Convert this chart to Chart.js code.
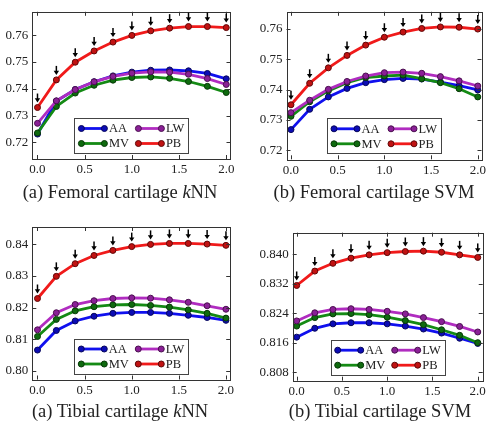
<!DOCTYPE html>
<html>
<head>
<meta charset="utf-8">
<script src="https://cdn.jsdelivr.net/npm/chart.js@4.4.0/dist/chart.umd.min.js"></script>
<style>
    html, body { margin: 0; padding: 0; background: #fff; }
    #wrap { position: relative; width: 489px; height: 424px; overflow: hidden; }
    canvas { position: absolute; }
    .cap {
        position: absolute; white-space: nowrap; transform: translateX(-50%);
        font-family: "Liberation Serif", "DejaVu Serif", serif; font-size: 18.5px;
        line-height: 18px; color: #222;
    }
</style>
</head>
<body>
<div id="wrap">
    <canvas id="c1" width="245" height="212" style="left:0;top:0"></canvas>
    <canvas id="c2" width="244" height="212" style="left:245px;top:0"></canvas>
    <canvas id="c3" width="245" height="212" style="left:0;top:212px"></canvas>
    <canvas id="c4" width="244" height="212" style="left:245px;top:212px"></canvas>
    <div class="cap" style="left:120px;top:183px">(a) Femoral cartilage <i>k</i>NN</div>
    <div class="cap" style="left:374px;top:183px">(b) Femoral cartilage SVM</div>
    <div class="cap" style="left:120px;top:402px">(a) Tibial cartilage <i>k</i>NN</div>
    <div class="cap" style="left:380px;top:402px">(b) Tibial cartilage SVM</div>
</div>
<script>
    var X_VALUES = [0.0, 0.2, 0.4, 0.6, 0.8, 1.0, 1.2, 1.4, 1.6, 1.8, 2.0];
    var X_TICKS = [0.0, 0.5, 1.0, 1.5, 2.0];
    var SERIES_NAMES = ['AA', 'MV', 'LW', 'PB'];

    // femoral cartilage, kNN
    var femKnnAA = [0.7231, 0.7354, 0.7397, 0.7426, 0.7448, 0.7462, 0.7469, 0.7470, 0.7467, 0.7457, 0.7437];
    var femKnnMV = [0.7235, 0.7334, 0.7384, 0.7413, 0.7432, 0.7442, 0.7444, 0.7439, 0.7427, 0.7409, 0.7386];
    var femKnnLW = [0.7271, 0.7355, 0.7397, 0.7426, 0.7446, 0.7458, 0.7463, 0.7462, 0.7454, 0.7438, 0.7416];
    var femKnnPB = [0.7330, 0.7433, 0.7499, 0.7541, 0.7574, 0.7599, 0.7616, 0.7626, 0.7632, 0.7632, 0.7628];

    // femoral cartilage, SVM
    var femSvmAA = [0.7268, 0.7335, 0.7376, 0.7404, 0.7423, 0.7433, 0.7437, 0.7435, 0.7425, 0.7413, 0.7399];
    var femSvmMV = [0.7312, 0.7360, 0.7396, 0.7423, 0.7440, 0.7445, 0.7448, 0.7436, 0.7423, 0.7403, 0.7376];
    var femSvmLW = [0.7324, 0.7365, 0.7401, 0.7427, 0.7445, 0.7456, 0.7458, 0.7454, 0.7443, 0.7429, 0.7412];
    var femSvmPB = [0.7350, 0.7421, 0.7472, 0.7513, 0.7547, 0.7573, 0.7590, 0.7602, 0.7607, 0.7606, 0.7600];

    // tibial cartilage, kNN
    var tibKnnAA = [0.8066, 0.8128, 0.8158, 0.8173, 0.8182, 0.8185, 0.8185, 0.8182, 0.8176, 0.8169, 0.8160];
    var tibKnnMV = [0.8109, 0.8163, 0.8190, 0.8203, 0.8209, 0.8210, 0.8207, 0.8202, 0.8193, 0.8182, 0.8167];
    var tibKnnLW = [0.8130, 0.8184, 0.8210, 0.8222, 0.8229, 0.8231, 0.8230, 0.8225, 0.8217, 0.8206, 0.8195];
    var tibKnnPB = [0.8229, 0.8299, 0.8339, 0.8365, 0.8381, 0.8393, 0.8400, 0.8403, 0.8403, 0.8401, 0.8397];

    // tibial cartilage, SVM
    var tibSvmAA = [0.8175, 0.8199, 0.8211, 0.8214, 0.8214, 0.8211, 0.8205, 0.8197, 0.8186, 0.8172, 0.8158];
    var tibSvmMV = [0.8205, 0.8228, 0.8238, 0.8239, 0.8236, 0.8229, 0.8220, 0.8209, 0.8195, 0.8180, 0.8160];
    var tibSvmLW = [0.8219, 0.8241, 0.8250, 0.8252, 0.8250, 0.8245, 0.8238, 0.8228, 0.8217, 0.8204, 0.8189];
    var tibSvmPB = [0.8315, 0.8354, 0.8375, 0.8389, 0.8398, 0.8404, 0.8407, 0.8408, 0.8405, 0.8398, 0.8391];

    var femTicks = [0.72, 0.73, 0.74, 0.75, 0.76];
    var tibKnnTicks = [0.80, 0.81, 0.82, 0.83, 0.84];
    var tibSvmTicks = [0.808, 0.816, 0.824, 0.832, 0.840];

    var LINE_COLORS = ['#1010ee', '#148a14', '#b02cc0', '#f01a1a'];
    var MARKER_FILL = ['#0c0cb4', '#0e6a0e', '#8a2096', '#c01212'];
    var MARKER_EDGE = ['#06065a', '#063806', '#4a104f', '#600808'];
    var FONT = '"Liberation Serif", "DejaVu Serif", serif';
    var TEXT_COLOR = '#222';

    var panels = [
        {id: 'c1', series: [femKnnAA, femKnnMV, femKnnLW, femKnnPB], yTicks: femTicks, digits: 2,
            yMin: 0.7138, yMax: 0.7687, xMin: -0.055, xMax: 2.045, area: {left: 32.3, top: 5, right: 230.5, bottom: 159}},
        {id: 'c2', series: [femSvmAA, femSvmMV, femSvmLW, femSvmPB], yTicks: femTicks, digits: 2,
            yMin: 0.7170, yMax: 0.7657, xMin: -0.048, xMax: 2.04, area: {left: 41.5, top: 6, right: 239.3, bottom: 159.3}},
        {id: 'c3', series: [tibKnnAA, tibKnnMV, tibKnnLW, tibKnnPB], yTicks: tibKnnTicks, digits: 2,
            yMin: 0.7973, yMax: 0.8455, xMin: -0.055, xMax: 2.045, area: {left: 32.3, top: 15, right: 230.2, bottom: 167.5}},
        {id: 'c4', series: [tibSvmAA, tibSvmMV, tibSvmLW, tibSvmPB], yTicks: tibSvmTicks, digits: 3,
            yMin: 0.8057, yMax: 0.8458, xMin: -0.044, xMax: 2.055, area: {left: 47.7, top: 20.7, right: 239.3, bottom: 168.7}}
    ];

    // box, inward tick marks on all four sides
    var framePlugin = {
        id: 'frame',
        afterDatasetsDraw: function (chart) {
            var ctx = chart.ctx, a = chart.chartArea, TL = 4;
            ctx.save();
            ctx.strokeStyle = '#333';
            ctx.lineWidth = 1;
            ctx.beginPath();
            chart.scales.x.ticks.forEach(function (t) {
                var px = Math.round(chart.scales.x.getPixelForValue(t.value)) + 0.5;
                ctx.moveTo(px, a.bottom); ctx.lineTo(px, a.bottom - TL);
                ctx.moveTo(px, a.top); ctx.lineTo(px, a.top + TL);
            });
            chart.scales.y.ticks.forEach(function (t) {
                var py = Math.round(chart.scales.y.getPixelForValue(t.value)) + 0.5;
                ctx.moveTo(a.left, py); ctx.lineTo(a.left + TL, py);
                ctx.moveTo(a.right, py); ctx.lineTo(a.right - TL, py);
            });
            ctx.stroke();
            ctx.strokeRect(Math.round(a.left) + 0.5, Math.round(a.top) + 0.5,
                Math.round(a.right - a.left), Math.round(a.bottom - a.top));
            ctx.restore();
        }
    };

    // black down arrows above every PB point
    var arrowPlugin = {
        id: 'arrows',
        afterDatasetsDraw: function (chart) {
            var ctx = chart.ctx, meta = chart.getDatasetMeta(3);
            ctx.save();
            ctx.fillStyle = '#000';
            ctx.strokeStyle = '#000';
            ctx.lineWidth = 1.5;
            meta.data.forEach(function (pt) {
                var tip = pt.y - 5;
                ctx.beginPath();
                ctx.moveTo(pt.x, tip - 9);
                ctx.lineTo(pt.x, tip - 3);
                ctx.stroke();
                ctx.beginPath();
                ctx.moveTo(pt.x - 2.7, tip - 4.2);
                ctx.lineTo(pt.x + 2.7, tip - 4.2);
                ctx.lineTo(pt.x, tip);
                ctx.closePath();
                ctx.fill();
            });
            ctx.restore();
        }
    };

    // two-column legend box in the lower centre of the axes
    var boxLegendPlugin = {
        id: 'boxLegend',
        afterDraw: function (chart) {
            var ctx = chart.ctx, a = chart.chartArea,
                w = 114, h = 35,
                left = (a.left + a.right) / 2 - w / 2,
                top = a.bottom - 6 - h;
            ctx.save();
            ctx.fillStyle = '#fff';
            ctx.fillRect(left, top, w, h);
            ctx.strokeStyle = '#444';
            ctx.lineWidth = 1;
            ctx.strokeRect(Math.round(left) + 0.5, Math.round(top) + 0.5, w, h);
            ctx.font = '12.5px ' + FONT;
            ctx.textBaseline = 'middle';
            chart.data.datasets.forEach(function (ds, i) {
                var col = Math.floor(i / 2), row = i % 2,
                    x0 = left + 7 + col * 57, x1 = x0 + 23,
                    y = top + 10.5 + row * 15;
                ctx.strokeStyle = ds.borderColor;
                ctx.lineWidth = 2.8;
                ctx.beginPath();
                ctx.moveTo(x0, y); ctx.lineTo(x1, y);
                ctx.stroke();
                [x0, x1].forEach(function (x) {
                    ctx.beginPath();
                    ctx.arc(x, y, 3, 0, Math.PI * 2);
                    ctx.fillStyle = ds.pointBackgroundColor;
                    ctx.fill();
                    ctx.lineWidth = 1;
                    ctx.strokeStyle = ds.pointBorderColor;
                    ctx.stroke();
                });
                ctx.fillStyle = TEXT_COLOR;
                ctx.fillText(ds.label, x1 + 4.5, y + 0.5);
            });
            ctx.restore();
        }
    };

    panels.forEach(function (p) {
        var canvas = document.getElementById(p.id);
        new Chart(canvas.getContext('2d'), {
            type: 'line',
            data: {
                datasets: SERIES_NAMES.map(function (name, i) {
                    return {
                        label: name,
                        data: X_VALUES.map(function (x, j) { return {x: x, y: p.series[i][j]}; }),
                        borderColor: LINE_COLORS[i],
                        backgroundColor: LINE_COLORS[i],
                        pointBackgroundColor: MARKER_FILL[i],
                        pointBorderColor: MARKER_EDGE[i],
                        borderWidth: 2.8,
                        pointRadius: 3,
                        pointBorderWidth: 1,
                        tension: 0,
                        fill: false,
                        clip: false,
                        order: 4 - i
                    };
                })
            },
            options: {
                responsive: false,
                animation: false,
                events: [],
                layout: {padding: {top: p.area.top, right: canvas.width - p.area.right, left: 0, bottom: 0}},
                plugins: {legend: {display: false}, tooltip: {enabled: false}},
                scales: {
                    x: {
                        type: 'linear', min: p.xMin, max: p.xMax,
                        afterBuildTicks: function (s) { s.ticks = X_TICKS.map(function (v) { return {value: v}; }); },
                        afterFit: function (s) { s.height = canvas.height - p.area.bottom; },
                        grid: {display: false, drawTicks: false},
                        border: {display: false},
                        ticks: {
                            padding: 3, color: TEXT_COLOR, font: {family: FONT, size: 13}, maxRotation: 0,
                            callback: function (v) { return v.toFixed(1); }
                        }
                    },
                    y: {
                        type: 'linear', min: p.yMin, max: p.yMax,
                        afterBuildTicks: function (s) { s.ticks = p.yTicks.map(function (v) { return {value: v}; }); },
                        afterFit: function (s) { s.width = p.area.left; },
                        grid: {display: false, drawTicks: false},
                        border: {display: false},
                        ticks: {
                            padding: 4, color: TEXT_COLOR, font: {family: FONT, size: 13},
                            callback: function (v) { return v.toFixed(p.digits); }
                        }
                    }
                }
            },
            plugins: [framePlugin, arrowPlugin, boxLegendPlugin]
        });
    });
</script>
</body>
</html>
